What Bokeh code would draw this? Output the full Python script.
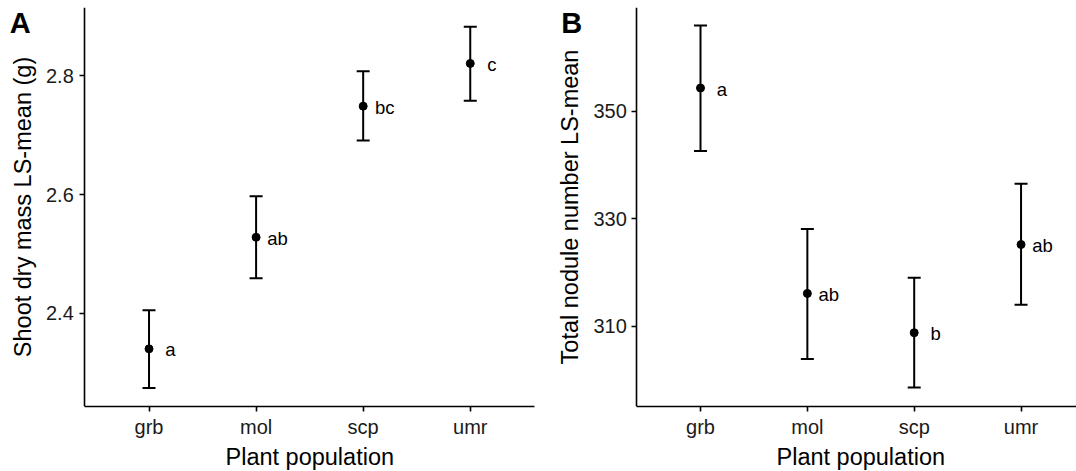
from bokeh.plotting import figure
from bokeh.layouts import row
from bokeh.models import (ColumnDataSource, Whisker, TeeHead, FixedTicker, Label,
                          Range1d, Title)
from bokeh.core.properties import value
from bokeh.embed import file_html
from bokeh.resources import INLINE

# ---------------- data ----------------
populations = ["grb", "mol", "scp", "umr"]

shoot_mean = [2.340, 2.528, 2.749, 2.821]
shoot_upper = [2.405, 2.597, 2.808, 2.883]
shoot_lower = [2.274, 2.459, 2.691, 2.758]
shoot_letters = ["a", "ab", "bc", "c"]
shoot_ticks = [2.4, 2.6, 2.8]

nodule_mean = [354.3, 316.1, 308.8, 325.2]
nodule_upper = [365.9, 328.1, 319.0, 336.5]
nodule_lower = [342.6, 303.9, 298.6, 314.0]
nodule_letters = ["a", "ab", "b", "ab"]
nodule_ticks = [310, 330, 350]

X_TITLE = "Plant population"
FONT = "Liberation Sans"
CAT_X = [i + 1 for i in range(len(populations))]


def panel(means, uppers, lowers, letters, ticks, y_title, y_rng, x_rng, axis_x,
          width, border_right, tag, tag_xy, ytick_standoff, ylab_standoff,
          xtitle_offset):
    src = ColumnDataSource(dict(x=CAT_X, mean=means, upper=uppers,
                                lower=lowers, letter=letters))
    p = figure(width=width, height=471,
               x_range=Range1d(*x_rng), y_range=Range1d(*y_rng),
               output_backend="svg", toolbar_location=None,
               min_border_left=0, min_border_right=border_right,
               min_border_top=7, min_border_bottom=65)
    p.outline_line_color = None
    p.grid.visible = False
    p.background_fill_color = "white"
    p.border_fill_color = "white"

    w = Whisker(base="x", upper="upper", lower="lower", source=src,
                line_color="black", line_width=2,
                upper_head=TeeHead(size=13, line_width=2, line_color="black"),
                lower_head=TeeHead(size=13, line_width=2, line_color="black"))
    p.add_layout(w)
    p.scatter("x", "mean", source=src, size=8, color="black")
    p.text("x", "mean", text="letter", source=src, x_offset=21.5, y_offset=1,
           text_align="center", text_baseline="middle",
           text_font=value(FONT), text_font_size="18.5px", text_color="black")

    for ax in (p.xaxis[0], p.yaxis[0]):
        ax.axis_line_color = "black"
        ax.axis_line_width = 1.6
        ax.major_tick_line_color = "black"
        ax.major_tick_line_width = 1.6
        ax.major_tick_out = 5
        ax.major_tick_in = 0
        ax.minor_tick_line_color = None
        ax.major_label_text_font = FONT
        ax.major_label_text_font_size = "20px"
        ax.major_label_text_color = "#1a1a1a"
        ax.axis_label_text_font = FONT
        ax.axis_label_text_font_size = "23.5px"
        ax.axis_label_text_font_style = "normal"
        ax.axis_label_text_color = "black"

    p.xaxis.ticker = FixedTicker(ticks=CAT_X)
    p.xaxis.major_label_overrides = {x: c for x, c in zip(CAT_X, populations)}
    p.xaxis.major_label_standoff = 4
    p.xaxis.bounds = (axis_x, x_rng[1])

    p.yaxis.ticker = FixedTicker(ticks=ticks)
    p.yaxis.axis_label = y_title
    p.yaxis.major_label_standoff = ytick_standoff
    p.yaxis.axis_label_standoff = ylab_standoff
    p.yaxis.fixed_location = axis_x

    # x-axis title, centred under the drawn axis line
    p.add_layout(Title(text=X_TITLE, align="left", offset=xtitle_offset,
                       standoff=3, text_font=FONT, text_font_size="23.5px",
                       text_font_style="normal", text_color="black"), "below")

    p.add_layout(Label(x=tag_xy[0], y=tag_xy[1], text=tag,
                       text_font=FONT, text_font_size="29px",
                       text_font_style="bold", text_color="black",
                       text_baseline="alphabetic", text_align="left"))
    return p


pA = panel(shoot_mean, shoot_upper, shoot_lower, shoot_letters, shoot_ticks,
           "Shoot dry mass LS-mean (g)", (2.2428, 2.9153), (-0.387, 4.6), 0.4,
           536, 2, "A", (-0.300, 2.8895), 6, 7, 225)
pB = panel(nodule_mean, nodule_upper, nodule_lower, nodule_letters, nodule_ticks,
           "Total nodule number LS-mean", (295.08, 369.27), (-0.535, 4.519), 0.404,
           540, 0, "B", (-0.3035, 366.42), 5, 7, 240)

layout = row(pA, pB)
open("out.html", "w").write(file_html(layout, INLINE))
